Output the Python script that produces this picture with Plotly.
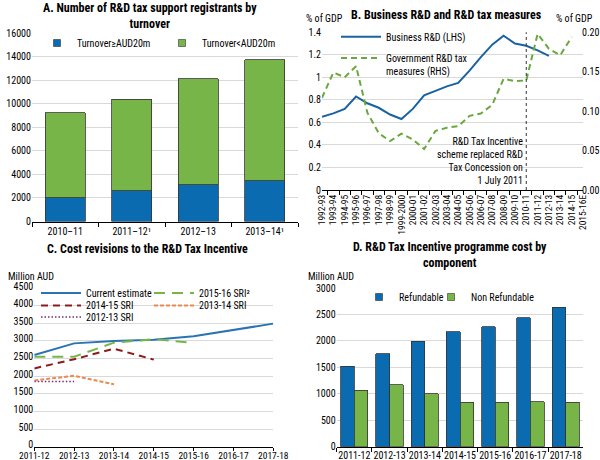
import plotly.graph_objects as go

FONT = "Roboto Condensed, Liberation Sans Narrow, Liberation Sans, sans-serif"
W, H = 600, 460

# ---------------- Data ----------------
# Panel A
a_cats = ["2010–11", "2011–12¹", "2012–13", "2013–14¹"]
a_large = [2030, 2620, 3130, 3450]          # Turnover>=AUD20m
a_small = [7230, 7780, 9000, 10320]         # Turnover<AUD20m

# Panel B
b_cats = ["1992-93", "1993-94", "1994-95", "1995-96", "1996-97", "1997-98", "1998-99",
          "1999-2000", "2000-01", "2001-02", "2002-03", "2003-04", "2004-05", "2005-06",
          "2006-07", "2007-08", "2008-09", "2009-10", "2010-11", "2011-12", "2012-13",
          "2013-14", "2014-15", "2015-16E"]
b_berd = [0.65, 0.68, 0.72, 0.83, 0.77, 0.73, 0.67, 0.63, 0.72, 0.84, 0.88, 0.92, 0.95,
          1.06, 1.18, 1.29, 1.37, 1.30, 1.28, 1.24, 1.19, None, None, None]
b_gov = [0.117, 0.149, 0.143, 0.157, 0.098, 0.072, 0.062, 0.0715, 0.064, 0.052, 0.075,
         0.079, 0.081, 0.094, 0.097, 0.108, 0.141, 0.138, 0.139, 0.198, 0.179, 0.171,
         0.194, None]
b_event = "2010-11"

# Panel C
c_cats = ["2011-12", "2012-13", "2013-14", "2014-15", "2015-16", "2016-17", "2017-18"]
c_current = [2600, 2930, 3000, 3030, 3130, 3310, 3490]
c_sri1516 = [2550, 2550, 2950, 3050, 2940]
c_sri1415 = [2220, 2480, 2780, 2470]
c_sri1314 = [1880, 2010, 1770]
c_sri1213 = [1850, 1850]

# Panel D
d_cats = ["2011-12", "2012-13", "2013-14", "2014-15", "2015-16", "2016-17", "2017-18"]
d_refund = [1520, 1760, 1990, 2170, 2270, 2440, 2640]
d_nonref = [1070, 1170, 1000, 840, 840, 850, 840]

# ---------------- Style ----------------
BLUE = "#0b6bb1"
GREEN = "#78b548"
LBLUE = "#1b62a0"
LGREEN = "#6aa83e"
GRID = "#d9d9d9"


def px_x(p):
    return p / W


def px_y(p):
    return 1 - p / H


fig = go.Figure()

# ---- Panel A ----
fig.add_trace(go.Bar(x=a_cats, y=a_large, width=0.6, marker=dict(color=BLUE, line=dict(color="#333", width=0.8)),
                     xaxis="x", yaxis="y", showlegend=False, name="Turnover≥AUD20m"))
fig.add_trace(go.Bar(x=a_cats, y=a_small, width=0.6, marker=dict(color=GREEN, line=dict(color="#333", width=0.8)),
                     xaxis="x", yaxis="y", showlegend=False, name="Turnover<AUD20m"))
fig.add_trace(go.Scatter(x=[None], y=[None], mode="markers", name="Turnover≥AUD20m",
                         marker=dict(symbol="square", size=7, color=BLUE, line=dict(color="#333", width=0.6)),
                         xaxis="x", yaxis="y", legend="legend"))
fig.add_trace(go.Scatter(x=[None], y=[None], mode="markers", name="Turnover<AUD20m",
                         marker=dict(symbol="square", size=7, color=GREEN, line=dict(color="#333", width=0.6)),
                         xaxis="x", yaxis="y", legend="legend"))

# ---- Panel B ----
fig.add_trace(go.Scatter(x=b_cats, y=b_berd, mode="lines", name="Business R&D (LHS)",
                         line=dict(color=LBLUE, width=2), xaxis="x2", yaxis="y2",
                         legend="legend2", connectgaps=False))
fig.add_trace(go.Scatter(x=b_cats, y=b_gov, mode="lines", name="Government R&D tax<br>measures (RHS)",
                         line=dict(color=LGREEN, width=2, dash="6px,4px"), xaxis="x2", yaxis="y3",
                         legend="legend3", connectgaps=False))

# ---- Panel C ----
fig.add_trace(go.Scatter(x=c_cats, y=c_current, mode="lines", name="Current estimate",
                         line=dict(color="#2a74b4", width=2), xaxis="x4", yaxis="y5", legend="legend4"))
fig.add_trace(go.Scatter(x=c_cats[:len(c_sri1516)], y=c_sri1516, mode="lines", name="2015-16 SRI²",
                         line=dict(color="#78b548", width=2, dash="11px,7px"), xaxis="x4", yaxis="y5",
                         legend="legend4"))
fig.add_trace(go.Scatter(x=c_cats[:len(c_sri1415)], y=c_sri1415, mode="lines", name="2014-15 SRI",
                         line=dict(color="#8c1c1c", width=2, dash="7px,5px"), xaxis="x4", yaxis="y5",
                         legend="legend5"))
fig.add_trace(go.Scatter(x=c_cats[:len(c_sri1314)], y=c_sri1314, mode="lines", name="2013-14 SRI",
                         line=dict(color="#ea8a50", width=2, dash="4px,2px"), xaxis="x4", yaxis="y5",
                         legend="legend5"))
fig.add_trace(go.Scatter(x=c_cats[:len(c_sri1213)], y=c_sri1213, mode="lines", name="2012-13 SRI",
                         line=dict(color="#7a2a78", width=1.5, dash="1.5px,2px"), xaxis="x4", yaxis="y5",
                         legend="legend6"))

# ---- Panel D ----
fig.add_trace(go.Bar(x=d_cats, y=d_refund, name="Refundable", showlegend=False, offsetgroup="r",
                     marker=dict(color=BLUE, line=dict(color="#333", width=0.8)), xaxis="x5", yaxis="y6"))
fig.add_trace(go.Bar(x=d_cats, y=d_nonref, name="Non Refundable", showlegend=False, offsetgroup="n",
                     marker=dict(color=GREEN, line=dict(color="#333", width=0.8)), xaxis="x5", yaxis="y6"))
fig.add_trace(go.Scatter(x=[None], y=[None], mode="markers", name="Refundable",
                         marker=dict(symbol="square", size=7, color=BLUE, line=dict(color="#333", width=0.6)),
                         xaxis="x5", yaxis="y6", legend="legend7"))
fig.add_trace(go.Scatter(x=[None], y=[None], mode="markers", name="Non Refundable",
                         marker=dict(symbol="square", size=7, color=GREEN, line=dict(color="#333", width=0.6)),
                         xaxis="x5", yaxis="y6", legend="legend8"))

tickfont = dict(family=FONT, size=10, color="#000")
common_y = dict(showgrid=True, gridcolor=GRID, gridwidth=1, zeroline=False, showline=False,
                ticks="", tickfont=tickfont, fixedrange=True, automargin=False, tickformat="d")
common_x = dict(showline=True, linecolor="#000", linewidth=1, showgrid=False, zeroline=False,
                ticks="outside", ticklen=4, tickcolor="#000", tickfont=tickfont, fixedrange=True,
                automargin=False, tickangle=0)

legfont = dict(family=FONT, size=10, color="#000")


def leg(x, y, **kw):
    d = dict(x=px_x(x), y=px_y(y), xanchor="left", yanchor="middle", orientation="h",
             bgcolor="rgba(0,0,0,0)", borderwidth=0, font=legfont, itemclick=False,
             itemdoubleclick=False, tracegroupgap=0, traceorder="normal")
    d.update(kw)
    return d


fig.update_layout(
    width=W, height=H, margin=dict(l=0, r=0, t=0, b=0, autoexpand=False),
    paper_bgcolor="white", plot_bgcolor="white",
    font=dict(family=FONT, size=10, color="#000"),
    barmode="stack",
    bargap=0.23,
    # Panel A
    xaxis=dict(common_x, domain=[px_x(32), px_x(298)], anchor="y", type="category",
               tickson="boundaries"),
    yaxis=dict(common_y, domain=[px_y(221.5), px_y(33.3)], anchor="x", range=[0, 16000], dtick=2000),
    # Panel B
    xaxis2=dict(common_x, domain=[px_x(322), px_x(583)], anchor="y2", type="category",
                tickson="boundaries", tickangle=-90, tickmode="array", tickvals=b_cats,
                tickfont=dict(family=FONT, size=9.5, color="#000")),
    yaxis2=dict(common_y, domain=[px_y(190), px_y(32.3)], anchor="x2", range=[0, 1.4], dtick=0.2,
                tickformat=""),
    yaxis3=dict(common_y, overlaying="y2", side="right", anchor="x2", range=[0, 0.2], dtick=0.05,
                tickformat=".2f", showgrid=False, ticklabelstandoff=-2),
    # Panel C
    xaxis4=dict(common_x, domain=[px_x(34.3), px_x(273.3)], anchor="y5", type="category",
                range=[0, len(c_cats) - 1], ticklen=3, ticklabelstandoff=-3,
                tickfont=dict(family=FONT, size=9.5, color="#000")),
    yaxis5=dict(common_y, domain=[px_y(446.7), px_y(288)], anchor="x4", range=[0, 4500], dtick=500,
                ticklabelshift=-2),
    # Panel D
    xaxis5=dict(common_x, domain=[px_x(336.7), px_x(583.3)], anchor="y6", type="category",
                tickson="boundaries", ticklabelstandoff=-1),
    yaxis6=dict(common_y, domain=[px_y(446.7), px_y(288)], anchor="x5", range=[0, 3000], dtick=500),
    legend=leg(37, 43, entrywidth=80, itemwidth=30),
    legend2=leg(336, 36.7, itemwidth=40),
    legend3=leg(336, 64.5, itemwidth=40, valign="top"),
    legend4=leg(36, 293, entrywidth=58, itemwidth=40),
    legend5=leg(36, 305.5, entrywidth=58, itemwidth=40),
    legend6=leg(36, 317, entrywidth=58, itemwidth=40),
    legend7=leg(359, 297, itemwidth=30),
    legend8=leg(431, 297, itemwidth=30),
)

ann = []


def text(x, y, s, xanchor="center", size=12, bold=False, align="center"):
    ann.append(dict(x=px_x(x), y=px_y(y), xref="paper", yref="paper", text=("<b>%s</b>" % s) if bold else s,
                    showarrow=False, xanchor=xanchor, yanchor="middle", align=align,
                    font=dict(family=FONT, size=size, color="#000")))


text(150, 16, "A. Number of R&D tax support registrants by<br>turnover", bold=True)
text(446, 15, "B. Business R&D and R&D tax measures", bold=True)
text(147, 249, "C. Cost revisions to the R&D Tax Incentive", bold=True)
text(450, 255.5, "D. R&D Tax Incentive programme cost by<br>component", bold=True)
text(304, 19, "% of GDP", xanchor="left", size=10)
text(595, 19, "% of GDP", xanchor="right", size=10)
text(6, 276, "Million AUD", xanchor="left", size=10)
text(306, 276, "Million AUD", xanchor="left", size=10)

ann.append(dict(x=b_cats.index(b_event), y=0.255, xref="x2", yref="y2", xanchor="right", yanchor="middle",
                xshift=-1, align="right", showarrow=False,
                text="R&D Tax Incentive<br>scheme replaced R&D<br>Tax Concession on<br>1 July 2011",
                font=dict(family=FONT, size=10, color="#000")))
fig.update_layout(annotations=ann)

fig.add_shape(type="line", xref="x2", yref="y2 domain", x0=b_cats.index(b_event), x1=b_cats.index(b_event),
              y0=0, y1=1, line=dict(color="#333", width=1, dash="dot"))

fig.write_html("out.html")
